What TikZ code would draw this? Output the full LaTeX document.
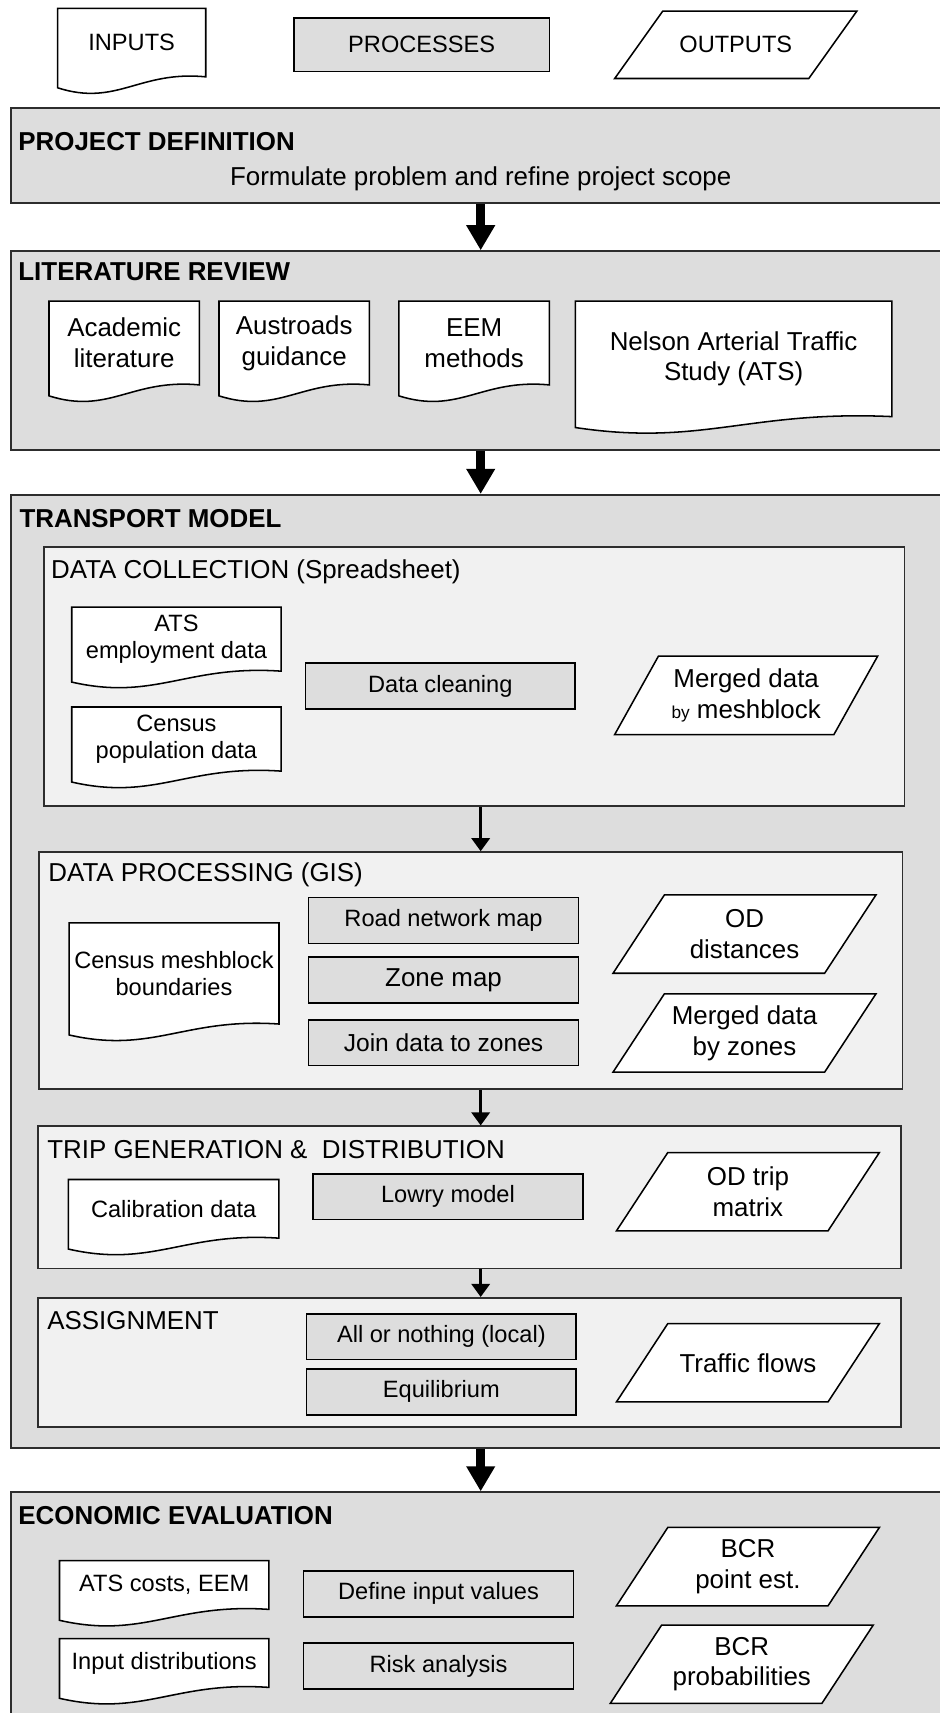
\documentclass[tikz,border=0pt]{standalone}
\usepackage{fontspec}
\setmainfont{Liberation Sans}
\usetikzlibrary{shapes.geometric, arrows.meta, positioning, calc, fit}
\definecolor{boxGray}{RGB}{221,221,221}
\definecolor{panelGray}{RGB}{241,241,241}
\definecolor{lineDark}{RGB}{45,45,45}
\newcommand{\fsmall}{\fontsize{12.3}{14}\selectfont}
\newcommand{\fbig}{\fontsize{13.5}{16}\selectfont}
\pgfdeclarelayer{bg}
\pgfdeclarelayer{shapes}
\pgfsetlayers{bg,shapes,main}

\begin{document}
\begin{tikzpicture}[x=0.02cm, y=-0.02cm,
            outerbox/.style={rectangle, draw=lineDark, line width=1pt, fill=boxGray, inner sep=0pt},
            panel/.style={rectangle, draw=lineDark, line width=0.9pt, fill=panelGray, inner sep=0pt},
            boxtitle/.style={anchor=west, inner sep=0pt, font=\fbig\bfseries},
            paneltitle/.style={anchor=west, inner sep=0pt, font=\fbig},
            process/.style={rectangle, draw=black, line width=0.8pt, fill=boxGray, minimum width=4.94cm,
                            minimum height=0.84cm, inner sep=0pt, font=\fsmall},
            doc/.style={rectangle, inner sep=0pt, align=center, font=\fsmall},
            output/.style={rectangle, minimum width=3.86cm, minimum height=1.42cm, inner sep=0pt,
                           align=center, font=\fbig},
            docline/.style={draw=black, line width=0.8pt},
            bigarrow/.style={-{Triangle[width=0.5cm, length=0.46cm]}, line width=5pt},
            smallarrow/.style={-{Triangle[width=0.33cm, length=0.24cm]}, line width=1.8pt}
        ]
            \useasboundingbox (0,0) rectangle (860,1568);
            \clip (0,0) rectangle (860,1568);

            % Legend
            \node[doc, minimum width=2.7cm, minimum height=1.24cm] (leginp) at (120.5,39) {INPUTS};
            \node[process, minimum width=4.68cm, minimum height=0.98cm] (legproc) at (386,41) {PROCESSES};
            \node[output, minimum width=3.54cm, minimum height=1.22cm, font=\fsmall] (legout) at (673.5,41) {OUTPUTS};

            % Stages
            \begin{pgfonlayer}{bg}
                \node[outerbox, fit={(10,99) (870,186)}] (projdef) {};
                \node[outerbox, fit={(10,230) (870,412)}] (litrev) {};
                \node[outerbox, fit={(10,453) (870,1325)}] (transport) {};
                \node[outerbox, fit={(10,1366) (870,1600)}] (econ) {};

                \node[panel, fit={(40,501) (828,738)}] (dcoll) {};
                \node[panel, fit={(36,780) (826,997)}] (dproc) {};
                \node[panel, fit={(35,1031) (825,1161)}] (tripgen) {};
                \node[panel, fit={(35,1188) (825,1306)}] (assign) {};
            \end{pgfonlayer}

            \node[boxtitle] (tprojdef) at (16.5,130) {PROJECT DEFINITION};
            \node[font=\fbig] (scope) at (440,164) {Formulate problem and refine project scope};
            \node[boxtitle] (tlitrev) at (16.5,249) {LITERATURE REVIEW};
            \node[boxtitle] (ttransport) at (17.5,475) {TRANSPORT MODEL};
            \node[boxtitle] (tecon) at (16.5,1387) {ECONOMIC EVALUATION};

            % Literature review
            \node[doc, minimum width=2.74cm, minimum height=1.52cm, font=\fbig] (acad) at (113.7,314) {Academic\\literature};
            \node[doc, minimum width=2.74cm, minimum height=1.52cm, font=\fbig] (austr) at (269.3,314) {Austroads\\guidance};
            \node[doc, minimum width=2.74cm, minimum height=1.52cm, font=\fbig] (eem) at (434,314) {EEM\\methods};
            \node[doc, minimum width=5.78cm, minimum height=2.1cm, font=\fbig] (nelson) at (671.5,328.5) {Nelson Arterial Traffic\\Study (ATS)};

            % Transport model
            \node[paneltitle] (tdcoll) at (46.5,523) {DATA COLLECTION (Spreadsheet)};
            \node[paneltitle] (tdproc) at (44,801) {DATA PROCESSING (GIS)};
            \node[paneltitle] (ttripgen) at (43,1052) {TRIP GENERATION \&\ \ DISTRIBUTION};
            \node[paneltitle] (tassign) at (43,1209) {ASSIGNMENT};

            \node[doc, minimum width=3.82cm, minimum height=1.16cm] (atsemp) at (161.5,585) {ATS\\employment data};
            \node[doc, minimum width=3.82cm, minimum height=1.16cm] (cenpop) at (161.5,676.5) {Census\\population data};
            \node[process] (clean) at (403,628) {Data cleaning};
            \node[output, minimum width=4cm] (mergemb) at (683,636.5) {Merged data\\{\fontsize{9}{16}\selectfont by} meshblock};

            \node[doc, minimum width=3.83cm, minimum height=1.84cm] (cenmesh) at (159.3,891) {Census meshblock\\boundaries};
            \node[process] (roadmap) at (406,842.5) {Road network map};
            \node[process, font=\fbig] (zonemap) at (406,897) {Zone map};
            \node[process, font={\fontsize{12.8}{15}\selectfont}] (joinzones) at (406,954.5) {Join data to zones};
            \node[output] (oddist) at (681.5,855) {OD\\distances};
            \node[output] (mergezn) at (681.5,945.5) {Merged data\\by zones};

            \node[doc, minimum width=3.84cm, minimum height=1.06cm] (calib) at (159,1106.5) {Calibration data};
            \node[process] (lowry) at (410,1095.4) {Lowry model};
            \node[output] (odtrip) at (684.6,1090.8) {OD trip\\matrix};

            \node[process] (allnothing) at (404,1223.6) {All or nothing (local)};
            \node[process] (equil) at (404,1274) {Equilibrium};
            \node[output] (traffic) at (684.6,1247.4) {Traffic flows};

            % Economic evaluation
            \node[doc, minimum width=3.82cm, minimum height=0.88cm] (atscost) at (150.3,1450.8) {ATS costs, EEM};
            \node[doc, minimum width=3.82cm, minimum height=0.88cm] (inpdist) at (150.3,1522.2) {Input distributions};
            \node[process] (definput) at (401.4,1458.9) {Define input values};
            \node[process] (risk) at (401.4,1525) {Risk analysis};
            \node[output] (bcrpoint) at (684.6,1434) {BCR\\point est.};
            \node[output] (bcrprob) at (679,1523.3) {BCR\\probabilities};

            % Shape outlines
            \begin{pgfonlayer}{shapes}
                \foreach \d in {leginp, acad, austr, eem, nelson, atsemp, cenpop, cenmesh, calib, atscost, inpdist} {
                    \filldraw[docline, fill=white] (\d.north west) -- (\d.north east) -- (\d.south east)
                        .. controls ($(\d.south east)!0.45!(\d.south west)+(0,0.12cm)$)
                        and ($(\d.south east)!0.6!(\d.south west)+(0,-0.55cm)$)
                        .. ($(\d.south west)+(0,-0.2cm)$) -- cycle;
                }
                \foreach \o/\s in {legout/0.44, mergemb/0.4, oddist/0.47, mergezn/0.47, odtrip/0.47,
                                   traffic/0.47, bcrpoint/0.47, bcrprob/0.47} {
                    \filldraw[docline, fill=white] ($(\o.south west)+(-\s cm,0)$) -- ($(\o.south east)+(-\s cm,0)$)
                        -- ($(\o.north east)+(\s cm,0)$) -- ($(\o.north west)+(\s cm,0)$) -- cycle;
                }
            \end{pgfonlayer}

            % Flow
            \draw[bigarrow] (projdef) -- (litrev);
            \draw[bigarrow] (litrev) -- (transport);
            \draw[bigarrow] (transport) -- (econ);
            \draw[smallarrow] (dcoll.south -| transport.north) -- (dproc.north -| transport.north);
            \draw[smallarrow] (dproc.south -| transport.north) -- (tripgen.north -| transport.north);
            \draw[smallarrow] (tripgen.south -| transport.north) -- (assign.north -| transport.north);
        \end{tikzpicture}
\end{document}
